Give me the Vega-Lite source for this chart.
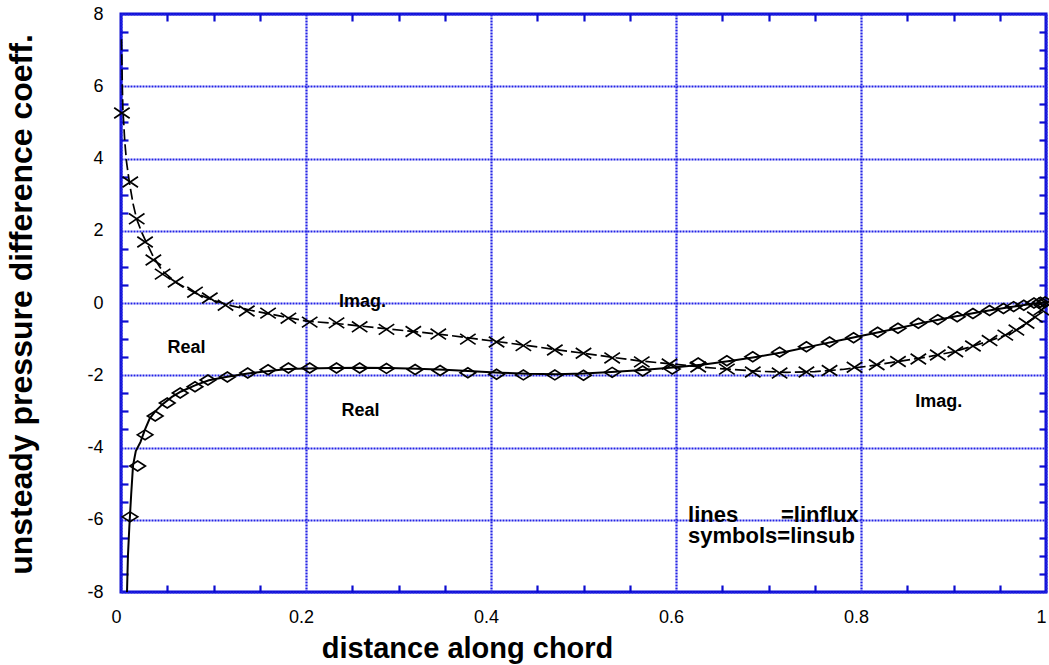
{
  "$schema": "https://vega.github.io/schema/vega-lite/v6.json",
  "width": 925,
  "height": 578,
  "autosize": {"type": "none"},
  "padding": {"left": 121, "top": 14, "right": 3, "bottom": 73},
  "background": "white",
  "config": {
    "font": "Liberation Sans",
    "view": {"stroke": "#0c0cd0", "strokeWidth": 3},
    "axis": {
      "domain": false,
      "tickColor": "#0c0cd0",
      "tickWidth": 2.2,
      "labelFont": "Liberation Sans",
      "labelFontSize": 18,
      "labelColor": "black",
      "titleFont": "Liberation Sans",
      "titleFontWeight": "bold",
      "titleColor": "black",
      "gridColor": "#2222e6",
      "gridWidth": 2.2,
      "gridDash": [2, 1]
    }
  },
  "datasets": {
    "realLine": [
      {"x": 0.0065, "y": -8.0}, {"x": 0.0075, "y": -7.0}, {"x": 0.009, "y": -6.2}, {"x": 0.011, "y": -5.3},
      {"x": 0.013, "y": -4.5}, {"x": 0.016, "y": -4.1}, {"x": 0.021, "y": -3.85}, {"x": 0.026, "y": -3.5},
      {"x": 0.031, "y": -3.2}, {"x": 0.037, "y": -3.0}, {"x": 0.045, "y": -2.8}, {"x": 0.055, "y": -2.6},
      {"x": 0.065, "y": -2.45}, {"x": 0.08, "y": -2.28}, {"x": 0.095, "y": -2.14}, {"x": 0.115, "y": -2.04},
      {"x": 0.137, "y": -1.95}, {"x": 0.16, "y": -1.88}, {"x": 0.18, "y": -1.83}, {"x": 0.2, "y": -1.81},
      {"x": 0.23, "y": -1.8}, {"x": 0.26, "y": -1.79}, {"x": 0.29, "y": -1.8}, {"x": 0.32, "y": -1.82},
      {"x": 0.35, "y": -1.85}, {"x": 0.38, "y": -1.89}, {"x": 0.41, "y": -1.93}, {"x": 0.44, "y": -1.96},
      {"x": 0.47, "y": -1.97}, {"x": 0.5, "y": -1.95}, {"x": 0.53, "y": -1.91}, {"x": 0.56, "y": -1.86},
      {"x": 0.6, "y": -1.78}, {"x": 0.63, "y": -1.7}, {"x": 0.66, "y": -1.6}, {"x": 0.69, "y": -1.48},
      {"x": 0.72, "y": -1.34}, {"x": 0.75, "y": -1.18}, {"x": 0.78, "y": -1.02}, {"x": 0.81, "y": -0.86},
      {"x": 0.84, "y": -0.7}, {"x": 0.87, "y": -0.53}, {"x": 0.9, "y": -0.38}, {"x": 0.93, "y": -0.24},
      {"x": 0.96, "y": -0.12}, {"x": 0.98, "y": -0.04}, {"x": 1.0, "y": 0.02}
    ],
    "imagLine": [
      {"x": 0.0005, "y": 7.3}, {"x": 0.001, "y": 6.6}, {"x": 0.0015, "y": 5.9}, {"x": 0.002, "y": 5.4},
      {"x": 0.004, "y": 4.5}, {"x": 0.006, "y": 3.9}, {"x": 0.009, "y": 3.35}, {"x": 0.013, "y": 2.75},
      {"x": 0.017, "y": 2.32}, {"x": 0.022, "y": 1.98}, {"x": 0.027, "y": 1.7}, {"x": 0.035, "y": 1.28},
      {"x": 0.045, "y": 0.88}, {"x": 0.06, "y": 0.56}, {"x": 0.08, "y": 0.28}, {"x": 0.1, "y": 0.07},
      {"x": 0.12, "y": -0.08}, {"x": 0.14, "y": -0.2}, {"x": 0.16, "y": -0.3}, {"x": 0.18, "y": -0.4},
      {"x": 0.2, "y": -0.5}, {"x": 0.23, "y": -0.56}, {"x": 0.26, "y": -0.64}, {"x": 0.29, "y": -0.72},
      {"x": 0.32, "y": -0.8}, {"x": 0.35, "y": -0.88}, {"x": 0.38, "y": -0.98}, {"x": 0.41, "y": -1.08},
      {"x": 0.44, "y": -1.18}, {"x": 0.47, "y": -1.29}, {"x": 0.5, "y": -1.39}, {"x": 0.53, "y": -1.5},
      {"x": 0.56, "y": -1.6}, {"x": 0.6, "y": -1.7}, {"x": 0.63, "y": -1.78}, {"x": 0.66, "y": -1.84},
      {"x": 0.69, "y": -1.89}, {"x": 0.72, "y": -1.92}, {"x": 0.75, "y": -1.9}, {"x": 0.78, "y": -1.84},
      {"x": 0.81, "y": -1.74}, {"x": 0.84, "y": -1.62}, {"x": 0.87, "y": -1.5}, {"x": 0.9, "y": -1.35},
      {"x": 0.92, "y": -1.2}, {"x": 0.94, "y": -1.04}, {"x": 0.96, "y": -0.85}, {"x": 0.975, "y": -0.65},
      {"x": 0.99, "y": -0.35}, {"x": 1.0, "y": -0.05}
    ],
    "imagSym": [
      {"x": 0.001, "y": 5.26}, {"x": 0.01, "y": 3.35}, {"x": 0.017, "y": 2.33}, {"x": 0.026, "y": 1.69},
      {"x": 0.035, "y": 1.19}, {"x": 0.045, "y": 0.8}, {"x": 0.059, "y": 0.58}, {"x": 0.08, "y": 0.3},
      {"x": 0.096, "y": 0.14}, {"x": 0.113, "y": -0.06}, {"x": 0.136, "y": -0.22}, {"x": 0.159, "y": -0.28},
      {"x": 0.181, "y": -0.42}, {"x": 0.204, "y": -0.53}, {"x": 0.233, "y": -0.55}, {"x": 0.258, "y": -0.66},
      {"x": 0.287, "y": -0.73}, {"x": 0.316, "y": -0.79}, {"x": 0.343, "y": -0.86}, {"x": 0.375, "y": -1.0},
      {"x": 0.406, "y": -1.08}, {"x": 0.435, "y": -1.18}, {"x": 0.469, "y": -1.3}, {"x": 0.5, "y": -1.39},
      {"x": 0.531, "y": -1.52}, {"x": 0.563, "y": -1.63}, {"x": 0.593, "y": -1.69}, {"x": 0.624, "y": -1.77},
      {"x": 0.655, "y": -1.83}, {"x": 0.683, "y": -1.91}, {"x": 0.712, "y": -1.94}, {"x": 0.741, "y": -1.91},
      {"x": 0.766, "y": -1.87}, {"x": 0.793, "y": -1.78}, {"x": 0.817, "y": -1.71}, {"x": 0.84, "y": -1.62},
      {"x": 0.862, "y": -1.55}, {"x": 0.883, "y": -1.44}, {"x": 0.902, "y": -1.35}, {"x": 0.921, "y": -1.19},
      {"x": 0.939, "y": -1.04}, {"x": 0.956, "y": -0.89}, {"x": 0.968, "y": -0.75}, {"x": 0.979, "y": -0.56},
      {"x": 0.988, "y": -0.39}, {"x": 0.995, "y": -0.19}, {"x": 1.0, "y": 0.0}
    ],
    "realSym": [
      {"x": 0.0097, "y": -5.92}, {"x": 0.018, "y": -4.51}, {"x": 0.026, "y": -3.65}, {"x": 0.037, "y": -3.13},
      {"x": 0.05, "y": -2.77}, {"x": 0.064, "y": -2.49}, {"x": 0.08, "y": -2.32}, {"x": 0.094, "y": -2.13},
      {"x": 0.115, "y": -2.05}, {"x": 0.137, "y": -1.94}, {"x": 0.159, "y": -1.85}, {"x": 0.181, "y": -1.8},
      {"x": 0.204, "y": -1.8}, {"x": 0.233, "y": -1.8}, {"x": 0.258, "y": -1.8}, {"x": 0.287, "y": -1.81},
      {"x": 0.318, "y": -1.84}, {"x": 0.345, "y": -1.87}, {"x": 0.375, "y": -1.93}, {"x": 0.406, "y": -1.97},
      {"x": 0.435, "y": -1.99}, {"x": 0.469, "y": -1.99}, {"x": 0.5, "y": -2.0}, {"x": 0.531, "y": -1.92},
      {"x": 0.564, "y": -1.88}, {"x": 0.596, "y": -1.83}, {"x": 0.624, "y": -1.66}, {"x": 0.655, "y": -1.6},
      {"x": 0.683, "y": -1.49}, {"x": 0.712, "y": -1.36}, {"x": 0.741, "y": -1.21}, {"x": 0.766, "y": -1.08},
      {"x": 0.792, "y": -0.96}, {"x": 0.818, "y": -0.81}, {"x": 0.84, "y": -0.7}, {"x": 0.862, "y": -0.56},
      {"x": 0.883, "y": -0.46}, {"x": 0.904, "y": -0.38}, {"x": 0.921, "y": -0.29}, {"x": 0.939, "y": -0.21},
      {"x": 0.954, "y": -0.15}, {"x": 0.965, "y": -0.1}, {"x": 0.976, "y": -0.06}, {"x": 0.987, "y": 0.0},
      {"x": 0.994, "y": 0.02}, {"x": 0.999, "y": 0.03}
    ],
    "labels": [
      {"x": 0.261, "y": -0.12, "text": "Imag."},
      {"x": 0.0708, "y": -1.39, "text": "Real"},
      {"x": 0.259, "y": -3.13, "text": "Real"},
      {"x": 0.884, "y": -2.89, "text": "Imag."}
    ],
    "note": [
      {"x": 0.613, "y": -6.05, "text": "lines\u00a0\u00a0\u00a0\u00a0\u00a0\u00a0\u00a0=linflux"},
      {"x": 0.613, "y": -6.64, "text": "symbols=linsub"}
    ]
  },
  "layer": [
    {
      "data": {"name": "realLine"},
      "mark": {"type": "line", "color": "black", "strokeWidth": 2},
      "encoding": {
        "x": {
          "field": "x", "type": "quantitative",
          "scale": {"domain": [0, 1], "nice": false, "zero": false},
          "axis": {
            "orient": "bottom",
            "values": [0, 0.2, 0.4, 0.6, 0.8, 1],
            "labelExpr": "'' + datum.value",
            "ticks": false,
            "labelBaseline": "alphabetic",
            "labelPadding": 30,
            "labelOffset": -5,
            "labelFlush": false,
            "labelOverlap": false,
            "grid": true,
            "title": "distance along chord",
            "titleFontSize": 29,
            "titleX": 346,
            "titleY": 65,
            "titleAlign": "center",
            "titleBaseline": "alphabetic"
          }
        },
        "y": {
          "field": "y", "type": "quantitative",
          "scale": {"domain": [-8, 8], "nice": false, "zero": false},
          "axis": {
            "orient": "left",
            "values": [-8, -6, -4, -2, 0, 2, 4, 6, 8],
            "labelExpr": "'' + datum.value",
            "ticks": false,
            "labelPadding": 18,
            "labelFlush": false,
            "labelOverlap": false,
            "grid": true,
            "title": "unsteady pressure difference coeff.",
            "titleFontSize": 32,
            "titleX": -90,
            "titleY": 290,
            "titleAlign": "center",
            "titleBaseline": "alphabetic"
          }
        }
      }
    },
    {
      "data": {"name": "imagLine"},
      "mark": {"type": "line", "color": "black", "strokeWidth": 1.7, "strokeDash": [11, 4]},
      "encoding": {
        "x": {
          "field": "x", "type": "quantitative",
          "scale": {"domain": [0, 1], "nice": false, "zero": false},
          "axis": {
            "orient": "top",
            "tickSize": -7,
            "values": [0.05, 0.1, 0.15, 0.25, 0.3, 0.35, 0.45, 0.5, 0.55, 0.65, 0.7, 0.75, 0.85, 0.9, 0.95],
            "labelExpr": "''", "grid": false, "title": null
          }
        },
        "y": {
          "field": "y", "type": "quantitative",
          "scale": {"domain": [-8, 8], "nice": false, "zero": false},
          "axis": {
            "orient": "right",
            "tickSize": -7,
            "values": [-7.5, -7, -6.5, -5.5, -5, -4.5, -3.5, -3, -2.5, -1.5, -1, -0.5, 0.5, 1, 1.5, 2.5, 3, 3.5, 4.5, 5, 5.5, 6.5, 7, 7.5],
            "labelExpr": "''", "grid": false, "title": null
          }
        }
      }
    },
    {
      "data": {"name": "realSym"},
      "mark": {"type": "point", "shape": "M-1,0L0,-0.64L1,0L0,0.64Z", "filled": false, "stroke": "black", "strokeWidth": 1.7, "size": 240, "opacity": 1},
      "encoding": {
        "x": {
          "field": "x", "type": "quantitative",
          "axis": {
            "orient": "bottom",
            "tickSize": -7,
            "values": [0.05, 0.1, 0.15, 0.25, 0.3, 0.35, 0.45, 0.5, 0.55, 0.65, 0.7, 0.75, 0.85, 0.9, 0.95],
            "labelExpr": "''", "grid": false, "title": null
          }
        },
        "y": {
          "field": "y", "type": "quantitative",
          "axis": {
            "orient": "left",
            "tickSize": -7,
            "values": [-7.5, -7, -6.5, -5.5, -5, -4.5, -3.5, -3, -2.5, -1.5, -1, -0.5, 0.5, 1, 1.5, 2.5, 3, 3.5, 4.5, 5, 5.5, 6.5, 7, 7.5],
            "labelExpr": "''", "grid": false, "title": null
          }
        }
      }
    },
    {
      "data": {"name": "imagSym"},
      "mark": {"type": "point", "shape": "M-1,-0.68L1,0.68M-1,0.68L1,-0.68", "filled": false, "stroke": "black", "strokeWidth": 1.7, "size": 240, "opacity": 1},
      "encoding": {
        "x": {"field": "x", "type": "quantitative", "axis": null},
        "y": {"field": "y", "type": "quantitative", "axis": null}
      }
    },
    {
      "data": {"name": "labels"},
      "mark": {"type": "text", "font": "Liberation Sans", "fontWeight": "bold", "fontSize": 18, "align": "center", "baseline": "alphabetic", "color": "black"},
      "encoding": {
        "x": {"field": "x", "type": "quantitative", "axis": null},
        "y": {"field": "y", "type": "quantitative", "axis": null},
        "text": {"field": "text"}
      }
    },
    {
      "data": {"name": "note"},
      "mark": {"type": "text", "font": "Liberation Sans", "fontWeight": "bold", "fontSize": 22, "align": "left", "baseline": "alphabetic", "color": "black"},
      "encoding": {
        "x": {"field": "x", "type": "quantitative", "axis": null},
        "y": {"field": "y", "type": "quantitative", "axis": null},
        "text": {"field": "text"}
      }
    }
  ],
  "resolve": {"axis": {"x": "independent", "y": "independent"}}
}
